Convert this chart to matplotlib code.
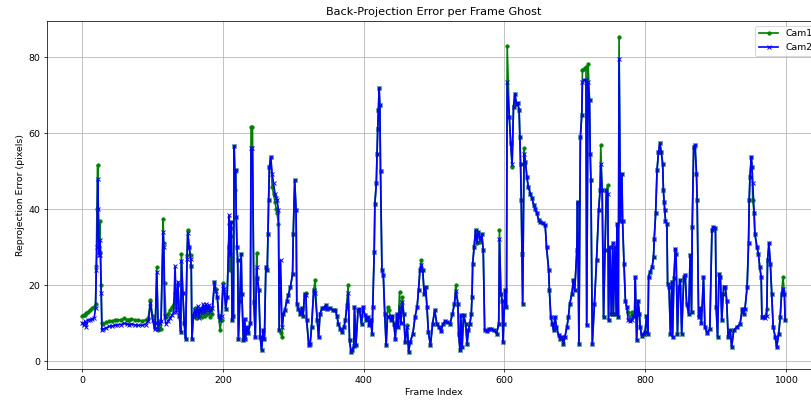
import matplotlib
matplotlib.use("Agg")
import matplotlib.pyplot as plt

frames = [0, 2, 4, 6, 8, 11, 14, 17, 19, 20, 21, 22, 23, 24, 25, 26, 27, 28, 30, 34, 38, 42, 46, 50, 55, 60, 63, 66, 70, 75, 80, 85, 90, 94, 97, 100, 103, 104, 106, 108, 110, 112, 115, 116, 117, 119, 122, 125, 128, 130, 132, 134, 136, 138, 140, 141, 143, 145, 147, 149, 150, 152, 154, 155, 156, 158, 160, 162, 164, 166, 168, 170, 172, 174, 176, 178, 180, 182, 185, 188, 190, 192, 194, 196, 198, 200, 202, 204, 206, 208, 209, 210, 211, 212, 213, 215, 216, 217, 218, 219, 220, 221, 222, 224, 226, 227, 229, 231, 232, 234, 236, 239, 240, 242, 244, 246, 248, 249, 251, 253, 255, 257, 259, 261, 263, 264, 265, 266, 268, 270, 272, 274, 276, 277, 279, 280, 282, 284, 286, 288, 291, 293, 296, 299, 300, 302, 304, 305, 307, 310, 312, 314, 316, 318, 319, 322, 324, 326, 329, 331, 334, 336, 338, 341, 343, 346, 348, 352, 356, 360, 362, 364, 367, 369, 372, 374, 376, 378, 380, 382, 384, 386, 387, 389, 392, 394, 397, 399, 402, 404, 406, 408, 410, 412, 413, 415, 416, 418, 419, 420, 421, 422, 423, 424, 426, 428, 430, 432, 434, 436, 439, 441, 443, 445, 447, 449, 451, 453, 455, 457, 459, 462, 464, 466, 470, 473, 476, 478, 480, 482, 484, 486, 488, 490, 492, 495, 498, 501, 504, 507, 510, 513, 516, 519, 523, 526, 529, 531, 534, 535, 537, 538, 540, 542, 545, 547, 549, 551, 553, 554, 555, 557, 559, 561, 563, 566, 568, 570, 572, 575, 578, 581, 585, 589, 592, 593, 595, 597, 598, 599, 601, 603, 604, 607, 609, 611, 613, 615, 617, 619, 621, 622, 623, 624, 625, 626, 628, 630, 632, 634, 637, 639, 642, 644, 646, 649, 651, 655, 658, 660, 663, 664, 666, 668, 670, 672, 674, 677, 679, 682, 684, 686, 689, 691, 693, 696, 698, 700, 703, 704, 706, 708, 710, 711, 713, 716, 717, 719, 721, 722, 723, 725, 728, 731, 734, 736, 737, 739, 741, 743, 745, 747, 748, 750, 752, 754, 755, 757, 759, 760, 762, 763, 765, 767, 768, 770, 772, 774, 776, 779, 781, 783, 785, 786, 788, 790, 792, 793, 795, 798, 800, 802, 804, 805, 807, 810, 812, 813, 815, 817, 819, 821, 823, 825, 826, 827, 828, 829, 831, 832, 834, 836, 838, 839, 841, 843, 844, 846, 848, 850, 852, 855, 857, 859, 862, 864, 866, 867, 869, 871, 873, 874, 876, 878, 880, 883, 885, 888, 892, 895, 897, 900, 901, 903, 905, 907, 909, 911, 912, 914, 916, 918, 921, 923, 926, 930, 935, 938, 940, 942, 945, 947, 948, 949, 951, 952, 953, 955, 956, 959, 961, 963, 965, 966, 968, 971, 973, 974, 976, 978, 980, 982, 985, 987, 990, 992, 994, 996, 998, 999]

cam1 = [12.0, 12.3, 12.2, 12.8, 13.0, 13.5, 14.0, 14.2, 15.0, 25, 40, 51.7, 35, 30, 37.0, 28.7, 20, 10.0, 9.8, 10.3, 10.5, 10.6, 10.8, 10.8, 11.0, 11.3, 11.0, 11.0, 11.2, 10.9, 10.8, 10.7, 10.9, 11.5, 16.1, 12, 8.7, 10, 24.7, 8.2, 10.5, 8.5, 37.5, 31, 20.5, 11.8, 12.5, 13.5, 14.4, 15, 18, 14, 20, 12, 7.8, 28.2, 18, 10, 6, 28, 34.6, 30, 28, 25, 6, 12, 14, 11.5, 13.5, 12, 13.5, 11.8, 14, 12, 14.5, 12.5, 14, 11.7, 12.5, 20.9, 19, 17, 12, 8.2, 11, 20.5, 18, 13.9, 17, 30, 36, 24, 33, 36.7, 11, 12, 56.6, 45, 50.3, 38, 30, 26.6, 6, 16, 28.3, 17.8, 5.5, 11.2, 6, 9, 7.5, 10, 61.7, 61.5, 15.6, 6.4, 28.5, 22, 18.7, 6.5, 2.9, 8.2, 6, 24.8, 24, 33.6, 42.4, 51, 53.8, 45.9, 44, 42, 40, 38.9, 36.2, 8.2, 7.5, 6.5, 12.5, 13.5, 16, 17.5, 19.6, 23, 33.6, 47.6, 39.7, 15.2, 13.9, 12.5, 14, 12, 17.8, 18, 11, 4.2, 4.6, 9, 18.7, 21.3, 10.8, 6.4, 12.5, 14, 14, 14.7, 13.8, 14, 13.5, 13.4, 12, 9.9, 8.5, 7.7, 9, 10.8, 15, 20, 5.5, 2.5, 3, 4, 14.3, 4.2, 13.4, 13.8, 9.9, 14.3, 12.1, 11, 11.7, 9.5, 11, 7.3, 14.3, 28.8, 41.5, 46.8, 54.6, 61.2, 66, 71.8, 67.4, 50, 24, 22.6, 12.5, 4.2, 14.3, 13.5, 10.8, 12, 9.9, 6, 12.5, 9, 18.2, 10, 17, 12.5, 5, 9.5, 2.5, 5, 7.3, 11.7, 14.3, 18.7, 24, 26.6, 24, 17.8, 19.6, 14.3, 7.7, 4.2, 9.9, 13.4, 9.9, 9, 8, 9.9, 10.5, 10.3, 9.9, 12.5, 15, 20, 15.2, 7.3, 2.9, 12.1, 3.8, 12.1, 9.9, 4.6, 8.2, 9.9, 12.5, 17, 25.7, 30, 34.5, 31, 34, 31.5, 33.5, 29.2, 8.2, 8, 8.5, 8.6, 8.2, 7.3, 9.9, 34.5, 17.8, 16, 5, 9.9, 18.7, 14.3, 82.9, 64.3, 57.3, 51.1, 67, 70.4, 67.8, 68, 66, 59, 52, 42.4, 28.3, 15.2, 56, 52.5, 48.5, 45.9, 44.1, 43, 41, 40, 39, 37.1, 36.6, 36.3, 35.8, 30, 24, 18.7, 11.7, 9.9, 8.2, 11.7, 9.1, 6.9, 6, 6.4, 4.6, 6.4, 9.1, 11.7, 15.2, 17.8, 21.3, 18.7, 29.2, 42, 4.6, 59, 64.7, 76.6, 77, 77.5, 9.5, 78.3, 68.7, 54.6, 47.6, 4.6, 15.2, 26.6, 39.7, 45, 56.8, 45, 11.7, 29.2, 45, 46.3, 10.8, 30, 12.5, 31, 12.5, 30, 12.5, 36.2, 11.7, 85.4, 37, 49.4, 37, 25.7, 16, 14.3, 13, 11, 13, 12, 12, 22.2, 5.5, 16, 12.5, 9, 6.8, 7.3, 7.7, 12, 7.3, 22.2, 23.5, 24.8, 27.5, 32.3, 38.9, 50.3, 55, 57.3, 55, 52, 45, 42, 39.7, 37, 36.2, 20.4, 19.6, 7.3, 21, 6.4, 22, 29.6, 28.3, 7.3, 19.6, 21.3, 7.3, 22.2, 22.6, 15.2, 12.5, 27.9, 13, 35.4, 56.4, 56.8, 49.4, 42.4, 11.7, 14, 10, 22.2, 9, 7.5, 8.5, 34.5, 35.4, 35, 14.3, 6.5, 23, 22.2, 10.8, 17.8, 19.6, 19.6, 16, 6.4, 8.2, 3.8, 8.2, 9, 9.8, 13.9, 12.5, 13.9, 19.6, 31, 42.4, 48.5, 53.8, 51, 42.4, 38.9, 33.6, 30, 28.3, 24.8, 22.2, 11.7, 11.7, 12, 13.9, 26.6, 31, 25.7, 17.8, 9, 6.4, 3.8, 7.3, 11.7, 17.8, 22.2, 17.8, 10.8]

cam2 = [10.2, 9.5, 10.5, 9.0, 10.8, 11.0, 11.2, 11.4, 14.0, 24, 30, 48.0, 40, 28, 32, 28, 18, 8.2, 8.5, 8.8, 9.2, 9.3, 9.5, 9.6, 9.7, 10.0, 9.8, 9.7, 9.8, 9.6, 9.5, 9.5, 9.7, 10.5, 15.3, 11, 8.5, 10, 23.6, 8.5, 10, 10.5, 34, 30, 12, 9.8, 10.5, 11.5, 12.2, 13, 25, 13, 21, 12, 7.8, 26.5, 18, 10, 6, 27, 33.7, 30, 27, 25, 6, 12, 13.5, 12, 14.5, 11.5, 14, 12.8, 15, 13, 15, 13.5, 14.8, 13, 14, 20.9, 18.5, 17, 12, 10.8, 12, 20, 19, 13.9, 17, 30, 38.4, 28, 35, 36.7, 10.8, 12, 56.6, 50, 50.3, 38, 30, 26.6, 6, 16, 28.3, 17.8, 5.5, 11.2, 6, 9, 7.5, 10, 56, 56, 15.6, 6.4, 24.8, 22, 18.7, 6.5, 2.9, 8.2, 6, 24.8, 24, 33.6, 42.4, 51, 53.8, 49.4, 46.8, 44.1, 43, 42.4, 39.7, 8.2, 26.6, 9, 12.5, 13.5, 16, 17.5, 19.6, 23, 33.6, 47.6, 39.7, 15.2, 13.9, 12.5, 14, 12, 17.8, 17.4, 11, 4.2, 4.6, 9, 18.7, 18, 10.8, 6.4, 12.5, 14, 14, 14.7, 13.8, 14, 13.5, 13.4, 12, 9.9, 8.5, 7.7, 9, 10.8, 14, 18, 5.5, 2.5, 3, 4, 14.3, 4.2, 13.4, 13.8, 9.9, 14.3, 12.1, 11, 11.7, 9.5, 11, 7.3, 14.3, 28.8, 41.5, 46.8, 54.6, 61.2, 66, 71.8, 67.4, 50, 24, 22.6, 12.5, 4.2, 12, 11.7, 10.8, 12, 9.9, 6, 12.5, 9, 14.3, 10, 15.6, 12.5, 5, 9.1, 2.5, 5, 7.3, 11.7, 14.3, 18.7, 24, 25.3, 24, 17.8, 19.6, 14.3, 7.7, 4.2, 9.9, 13.4, 9.9, 9, 8, 9.9, 10.5, 10.3, 9.9, 12.5, 15, 18.5, 15.2, 7.3, 2.9, 12.1, 3.8, 12.1, 9.9, 4.6, 8.2, 9.9, 12.5, 17, 25.7, 30, 34.5, 31.4, 34, 32, 33.5, 29.2, 8.2, 8, 8.5, 8.6, 8.2, 7.3, 9.9, 32.3, 17.8, 16, 5, 9.9, 18.7, 14.3, 73.5, 64.3, 57.3, 52, 67, 70.4, 67.8, 68, 66, 59, 52, 42.4, 28.3, 15.2, 54.6, 52.5, 48.5, 45.9, 44.1, 43, 41, 40, 39, 37.1, 36.6, 36.3, 35.8, 30, 24, 18.7, 11.7, 9.9, 8.2, 11.7, 9.1, 6.9, 6, 6.4, 4.6, 6.4, 9.1, 11.7, 15.2, 17.8, 21.3, 18.7, 29.2, 42, 4.6, 59, 64.7, 73.5, 74, 74, 9.5, 73.5, 68.7, 54.6, 47.6, 4.6, 15.2, 26.6, 39.7, 45, 52, 45, 11.7, 29.2, 45, 44, 10.8, 30, 12.5, 31, 12.5, 30, 12.5, 36.2, 11.7, 79.6, 37, 49.4, 37, 25.7, 16, 14.3, 10.8, 10.5, 10.8, 12, 12, 22.2, 5.5, 16, 12.5, 9, 6.8, 7.3, 7.7, 12, 7.3, 22.2, 23.5, 24.8, 27.5, 32.3, 38.9, 50.3, 55, 57.3, 55, 52, 45, 42, 39.7, 37, 36.2, 20.4, 19.6, 7.3, 21, 6.4, 22, 29.6, 28.3, 7.3, 19.6, 21.3, 7.3, 22.2, 22.6, 15.2, 12.5, 27.9, 13, 35.4, 56.4, 56.8, 49.4, 42.4, 11.7, 14, 10, 22.2, 9, 7.5, 8.5, 34.5, 35.4, 35, 14.3, 6.5, 23, 22.2, 10.8, 17.8, 19.6, 19.6, 16, 6.4, 8.2, 3.8, 8.2, 9, 9.8, 13.9, 12.5, 13.9, 19.6, 31, 42.4, 48.5, 53.8, 51, 47, 38.9, 33.6, 30, 28.3, 24.8, 22.2, 11.7, 11.7, 11.3, 12, 26.6, 31, 25.7, 17.8, 9, 6.4, 3.8, 7.3, 11.7, 17.8, 19, 17.8, 10.8]

series_labels = ["Cam1", "Cam2"]

W, H, DPI = 811, 402, 67.6
fig = plt.figure(figsize=(W / DPI, H / DPI), dpi=DPI)
ax = fig.add_axes([47 / W, (H - 369) / H, (821 - 47) / W, (369 - 21) / H])

ax.plot(frames, cam1, color="green", marker="o", markersize=3.5, linewidth=1.8, label=series_labels[0], zorder=2)
ax.plot(frames, cam2, color="blue", marker="x", markersize=3.5, linewidth=1.8, label=series_labels[1], zorder=3)

ax.set_xlim(-50, 1050)
ax.set_ylim(-2, 89.5)
ax.set_title("Back-Projection Error per Frame Ghost")
ax.set_xlabel("Frame Index")
ax.set_ylabel("Reprojection Error (pixels)")
ax.grid(True)
ax.legend(loc="upper right")

fig.savefig("out.png", dpi=DPI)
